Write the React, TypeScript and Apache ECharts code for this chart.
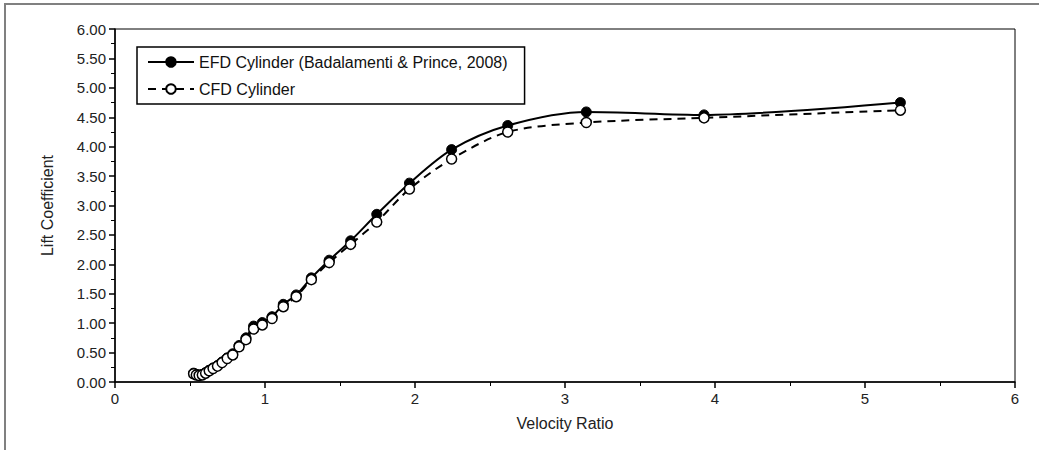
import React, { useEffect, useRef } from "react";
import * as echarts from "echarts";

const velocityRatio = [
  0.524, 0.542, 0.561, 0.582, 0.604, 0.628, 0.654, 0.683, 0.714, 0.748, 0.785,
  0.827, 0.873, 0.924, 0.982, 1.047, 1.122, 1.208, 1.309, 1.428, 1.571, 1.745,
  1.963, 2.244, 2.618, 3.142, 3.927, 5.236,
];
const efdLift = [
  0.15, 0.13, 0.12, 0.13, 0.16, 0.2, 0.24, 0.28, 0.34, 0.41, 0.48,
  0.62, 0.75, 0.95, 1.01, 1.11, 1.32, 1.48, 1.77, 2.07, 2.4, 2.85,
  3.38, 3.95, 4.36, 4.59, 4.54, 4.75,
];
const cfdLift = [
  0.14, 0.12, 0.11, 0.12, 0.15, 0.19, 0.23, 0.27, 0.33, 0.4, 0.46,
  0.6, 0.72, 0.9, 0.97, 1.08, 1.28, 1.45, 1.74, 2.03, 2.34, 2.72,
  3.28, 3.79, 4.25, 4.41, 4.49, 4.62,
];
const seriesNames = ["EFD Cylinder (Badalamenti & Prince, 2008)", "CFD Cylinder"];

const FONT = "'Liberation Sans', Arial, sans-serif";

export default function App() {
  const ref = useRef<HTMLDivElement>(null);
  useEffect(() => {
    if (!ref.current) return;
    const chart = echarts.init(ref.current, null, { renderer: "svg" });
    chart.setOption({
      animation: false,
      backgroundColor: "#fff",
      textStyle: { fontFamily: FONT },
      graphic: [
        {
          type: "rect",
          shape: { x: 5, y: 4, width: 1100, height: 500 },
          style: { fill: "none", stroke: "#808080", lineWidth: 2 },
          silent: true,
          z: 0,
        },
      ],
      grid: {
        left: 115,
        right: 1039 - 1015,
        top: 29,
        bottom: 450 - 382,
        show: true,
        borderColor: "#000",
        borderWidth: 1,
        backgroundColor: "transparent",
      },
      legend: {
        orient: "vertical",
        left: 137,
        top: 47,
        borderColor: "#000",
        borderWidth: 1.5,
        padding: [7, 17, 7, 10],
        itemGap: 11,
        itemWidth: 46,
        itemHeight: 12,
        textStyle: { fontSize: 16, color: "#111", fontFamily: FONT },
        data: seriesNames,
      },
      xAxis: {
        type: "value",
        min: 0,
        max: 6,
        interval: 1,
        name: "Velocity Ratio",
        nameLocation: "middle",
        nameGap: 33,
        nameTextStyle: { fontSize: 16, color: "#222", fontFamily: FONT },
        axisLine: { show: true, onZero: false, lineStyle: { color: "#000", width: 1.5 } },
        axisTick: { show: true, length: 6, lineStyle: { color: "#000", width: 1.5 } },
        minorTick: { show: true, splitNumber: 2, length: 4, lineStyle: { color: "#000", width: 1 } },
        axisLabel: { fontSize: 15, color: "#222", margin: 9, fontFamily: FONT },
        splitLine: { show: false },
      },
      yAxis: {
        type: "value",
        min: 0,
        max: 6,
        interval: 0.5,
        name: "Lift Coefficient",
        nameLocation: "middle",
        nameGap: 60,
        nameTextStyle: { fontSize: 16, color: "#222", fontFamily: FONT },
        axisLine: { show: true, onZero: false, lineStyle: { color: "#000", width: 1.5 } },
        axisTick: { show: true, length: 6, lineStyle: { color: "#000", width: 1.5 } },
        minorTick: { show: true, splitNumber: 2, length: 4, lineStyle: { color: "#000", width: 1 } },
        axisLabel: {
          fontSize: 15,
          color: "#222",
          margin: 9,
          fontFamily: FONT,
          formatter: (v: number) => v.toFixed(2),
        },
        splitLine: { show: false },
      },
      series: [
        {
          name: seriesNames[0],
          type: "line",
          data: velocityRatio.map((x, i) => [x, efdLift[i]]),
          smooth: 0.3,
          symbol: "circle",
          symbolSize: 10,
          showAllSymbol: true,
          lineStyle: { color: "#000", width: 2 },
          itemStyle: { color: "#000", borderColor: "#000", borderWidth: 1 },
          z: 2,
        },
        {
          name: seriesNames[1],
          type: "line",
          data: velocityRatio.map((x, i) => [x, cfdLift[i]]),
          smooth: 0.3,
          symbol: "circle",
          symbolSize: 10,
          showAllSymbol: true,
          lineStyle: { color: "#000", width: 2, type: [8, 6] },
          itemStyle: { color: "#fff", borderColor: "#000", borderWidth: 1.5 },
          z: 3,
        },
      ],
    });
    return () => chart.dispose();
  }, []);
  return <div ref={ref} style={{ width: 1039, height: 450, position: "absolute", left: 0, top: 0 }} />;
}
